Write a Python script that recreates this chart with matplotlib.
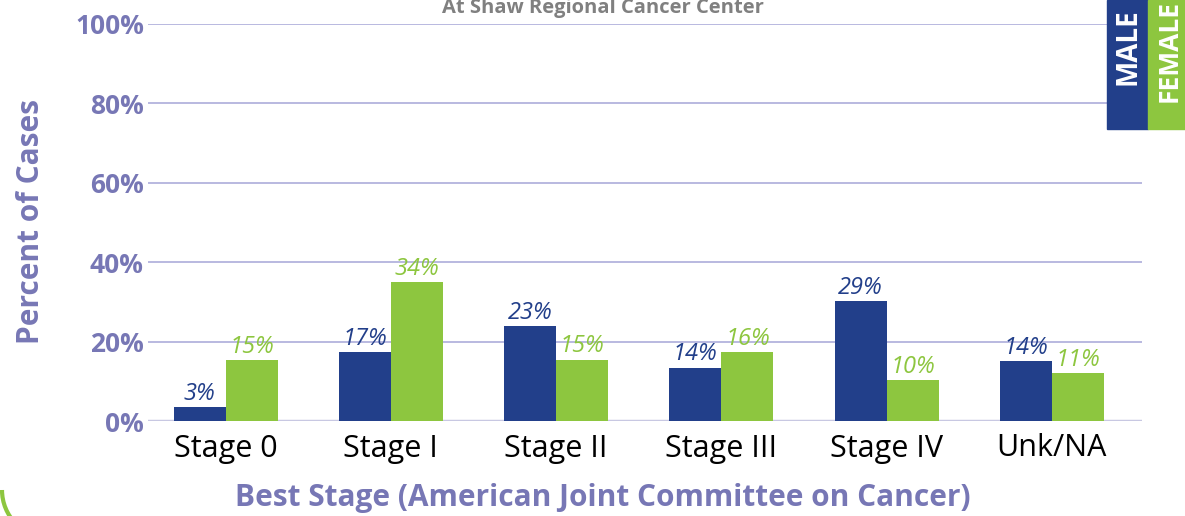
import matplotlib
matplotlib.use("Agg")
import matplotlib.pyplot as plt
from matplotlib.patches import Rectangle, Arc
import numpy as np

categories = ["Stage 0", "Stage I", "Stage II", "Stage III", "Stage IV", "Unk/NA"]
male_values = [3.5, 17.4, 23.9, 13.4, 30.2, 15.1]
female_values = [15.3, 35.0, 15.4, 17.4, 10.3, 12.1]
male_labels = ["3%", "17%", "23%", "14%", "29%", "14%"]
female_labels = ["15%", "34%", "15%", "16%", "10%", "11%"]
yticks = [0, 20, 40, 60, 80, 100]
ytick_labels = ["0%", "20%", "40%", "60%", "80%", "100%"]

BLUE = "#223f8a"
GREEN = "#8dc63f"
AXIS_TXT = "#7777b5"
GRID = "#b3b3dd"
FONT = "Open Sans"

W, H = 1185, 516
fig = plt.figure(figsize=(W / 100, H / 100), dpi=100)
ax = fig.add_axes([148 / W, 1 - 421 / H, (1142 - 148) / W, (421 - 24) / H])

x = np.arange(len(categories))
bw = 0.315
ax.bar(x - bw / 2, male_values, bw, color=BLUE, zorder=3)
ax.bar(x + bw / 2, female_values, bw, color=GREEN, zorder=3)

for xi, v, lab in zip(x, male_values, male_labels):
    ax.annotate(lab, (xi - bw / 2, v), xytext=(0, 1), textcoords="offset points",
                ha="center", va="bottom", color=BLUE, fontsize=17,
                style="italic", family=FONT, zorder=4)
for xi, v, lab in zip(x, female_values, female_labels):
    ax.annotate(lab, (xi + bw / 2, v), xytext=(0, 1), textcoords="offset points",
                ha="center", va="bottom", color=GREEN, fontsize=17,
                style="italic", family=FONT, zorder=4)

ax.set_xlim(-0.47, 5.545)
ax.set_ylim(0, 100)
ax.set_yticks(yticks)
ax.set_yticklabels(ytick_labels, fontsize=19, fontweight="bold", color=AXIS_TXT, family=FONT)
ax.set_xticks(x)
ax.set_xticklabels(categories, fontsize=22, color="black", family=FONT)
ax.tick_params(axis="both", length=0)
ax.tick_params(axis="y", pad=3)
ax.tick_params(axis="x", pad=9)

for yv in yticks[1:]:
    ax.axhline(yv, color=GRID, lw=1.3, zorder=1)
ax.axhline(0, color="#c8c8e2", lw=2.5, zorder=2)
for s in ax.spines.values():
    s.set_visible(False)

fig.text(31 / W, 1 - 222 / H, "Percent of Cases", rotation=90, ha="center", va="center",
         fontsize=21.5, fontweight="bold", color=AXIS_TXT, family=FONT)
fig.text(603 / W, 1 - 498 / H, "Best Stage (American Joint Committee on Cancer)",
         ha="center", va="center", fontsize=21.5, fontweight="bold", color=AXIS_TXT, family=FONT)
fig.text(603 / W, 1 - 13 / H, "At Shaw Regional Cancer Center", ha="center", va="baseline",
         fontsize=14.5, fontweight="bold", color="#808080", family=FONT)

# legend boxes
fig.patches.append(Rectangle((1107 / W, 1 - 129 / H), 41 / W, 129 / H, transform=fig.transFigure,
                             color=BLUE, zorder=5))
fig.patches.append(Rectangle((1148 / W, 1 - 129 / H), 40 / W, 129 / H, transform=fig.transFigure,
                             color=GREEN, zorder=5))
fig.text(1128 / W, 1 - 85 / H, "MALE", rotation=90, ha="center", va="bottom", fontsize=20,
         fontweight="bold", color="white", family=FONT, zorder=6)
fig.text(1169 / W, 1 - 102 / H, "FEMALE", rotation=90, ha="center", va="bottom", fontsize=19,
         fontweight="bold", color="white", family=FONT, zorder=6)

# decorative green border corner
arc = Arc((50 / W, 1 - 490 / H), 96 / W, 96 / H, theta1=180, theta2=270,
          transform=fig.transFigure, color=GREEN, lw=3)
fig.patches.append(arc)

fig.savefig("out.png", dpi=100)
